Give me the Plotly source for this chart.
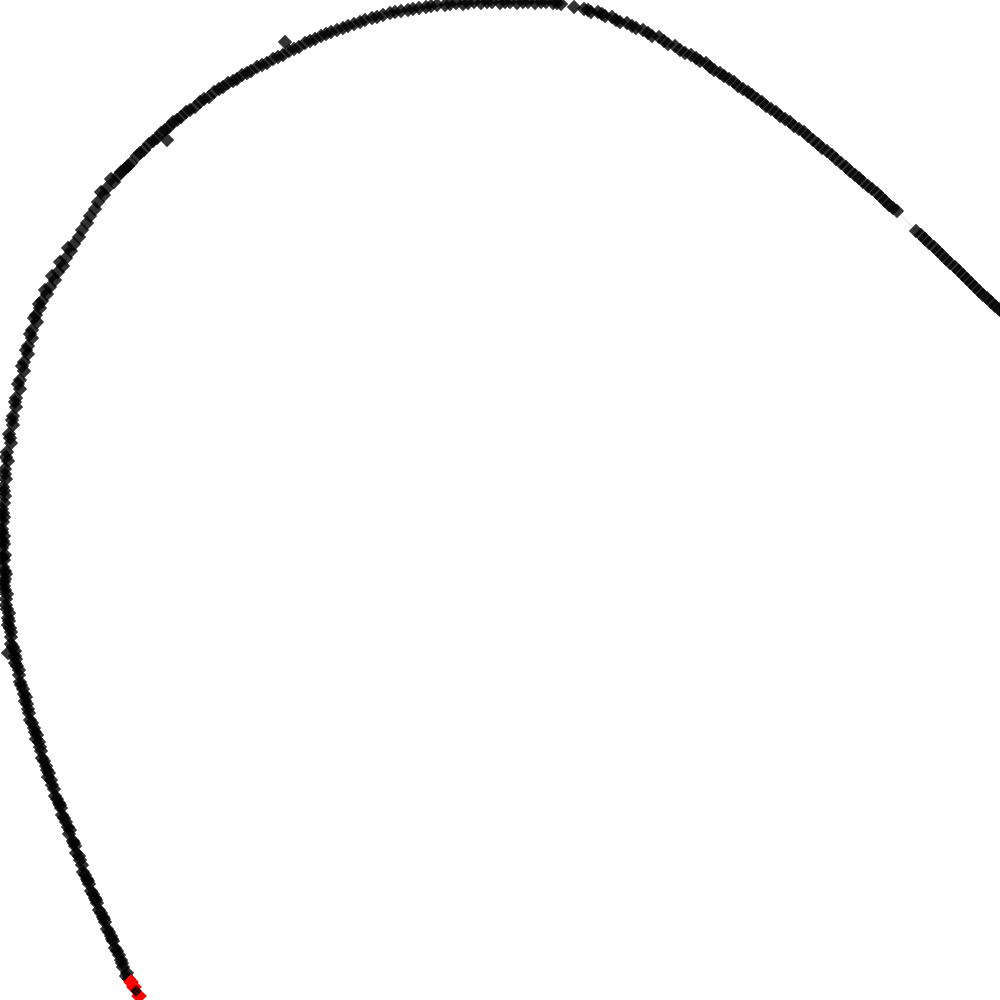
import plotly.graph_objects as go

# Points (x, y in pixel-like units, y grows downward)
seg_lower = [
    (129, 979), (127, 973), (123, 967), (121, 960), (119, 955), (115, 948), (113, 941),
    (111, 936), (107, 929), (105, 922), (103, 917), (99, 910), (97, 903), (95, 898), (91, 891),
    (89, 884), (87, 879), (83, 872), (82, 865), (80, 860), (76, 853), (75, 846), (73, 841),
    (69, 834), (68, 827), (66, 822), (62, 815), (61, 808), (59, 803), (55, 796), (54, 789),
    (52, 785), (48, 777), (47, 770), (46, 766), (42, 758), (41, 751), (40, 747), (36, 739),
    (35, 732), (34, 728), (30, 720), (29, 713), (28, 709), (25, 701), (24, 694), (23, 689),
    (20, 682), (19, 675), (19, 670), (15, 663), (15, 656), (15, 651), (11, 644), (11, 637),
    (11, 632), (8, 625), (8, 618), (9, 613), (6, 605), (6, 599), (7, 594), (4, 586),
    (5, 579), (6, 574), (3, 567), (4, 560), (5, 555), (2, 548), (3, 541), (4, 536),
    (2, 529), (3, 522), (4, 517), (2, 509), (4, 503),
]

seg_upper = [
    (5, 496), (3, 487), (6, 479), (5, 469), (8, 461), (7, 452), (11, 443), (9, 434),
    (13, 425), (13, 416), (16, 407), (16, 398), (20, 389), (20, 380), (24, 371), (24, 362),
    (28, 354), (28, 346), (32, 338), (32, 330), (37, 322), (36, 315), (40, 308), (42, 301),
    (47, 294), (50, 287), (55, 280), (58, 272), (63, 266), (66, 258), (71, 251), (74, 244),
    (79, 237), (82, 230), (87, 223), (90, 216), (95, 209), (98, 202), (104, 195), (107, 188),
    (114, 182), (118, 176), (125, 169), (131, 163), (137, 156), (144, 150), (149, 144), (157, 138),
    (161, 133), (169, 127), (173, 122), (181, 117), (186, 112), (195, 107), (200, 102), (209, 97),
    (214, 92), (223, 87), (228, 83), (237, 79), (242, 75), (251, 71), (257, 67), (267, 63),
    (273, 59), (283, 55), (289, 51), (299, 47), (305, 43), (315, 39), (321, 36), (331, 32),
    (337, 30), (348, 26), (354, 24), (365, 20), (372, 18), (383, 15), (390, 13), (401, 11),
    (408, 10), (419, 8), (426, 7), (437, 5), (445, 5), (456, 3), (463, 4), (474, 2),
    (481, 3), (492, 2), (500, 3), (510, 2), (517, 3), (528, 2), (535, 3), (546, 2),
    (553, 3), (561, 4), (574, 7),
]

seg_right = [
    (584, 9), (591, 12), (598, 12), (605, 16), (612, 17), (620, 22), (627, 23), (636, 28),
    (643, 30), (652, 36), (659, 37), (668, 44), (675, 46), (685, 53), (691, 55), (700, 61),
    (706, 63), (714, 70), (720, 73), (729, 79), (734, 82), (743, 89), (748, 92), (757, 99),
    (762, 102), (771, 109), (776, 112), (785, 119), (790, 122), (799, 129), (804, 132), (813, 140),
    (818, 144), (827, 151), (832, 155), (841, 163), (846, 167), (855, 175), (859, 178), (868, 186),
    (872, 189), (881, 197), (885, 201), (893, 208), (897, 211), (916, 231), (921, 235), (929, 243),
    (934, 247), (942, 255), (946, 259), (955, 267), (959, 271), (967, 279), (971, 283), (979, 291),
    (983, 295), (991, 302), (995, 306), (1003, 313),
]

extra_lower = [
    (126, 976), (122, 963), (117, 951), (112, 939), (109, 932), (104, 919), (101, 913),
    (96, 900), (93, 894), (88, 881), (85, 875), (79, 856), (74, 843), (70, 830), (64, 818),
    (60, 805), (57, 799), (51, 780), (49, 773), (44, 761), (39, 742), (37, 735), (32, 723),
    (27, 704), (26, 697), (21, 685), (17, 666), (16, 659), (13, 647), (10, 628), (9, 621),
    (7, 609), (5, 590), (4, 582), (5, 571), (3, 557), (4, 544), (2, 532), (3, 513),
]

extra_upper = [
    (4, 491), (5, 474), (6, 457), (10, 438), (12, 420), (15, 402), (18, 384), (22, 366),
    (26, 350), (30, 334), (34, 318), (39, 304), (45, 290), (52, 276), (60, 262), (68, 248),
    (101, 192), (111, 179), (121, 172), (128, 166), (140, 153), (153, 141), (165, 130), (177, 120),
    (190, 110), (204, 99), (219, 89), (233, 81), (247, 73), (262, 65), (278, 57), (294, 49),
    (310, 41), (326, 34), (343, 28), (360, 22), (377, 17), (395, 12), (413, 9), (431, 6),
    (450, 4), (468, 3), (487, 2), (505, 2), (523, 2), (541, 2), (557, 3),
]

extra_right = [
    (588, 10), (602, 14), (616, 20), (632, 26), (648, 33), (664, 41), (680, 50), (696, 58),
    (710, 67), (724, 76), (738, 86), (752, 95), (766, 106), (780, 116), (794, 126), (808, 136),
    (822, 148), (836, 159), (850, 171), (863, 182), (877, 193), (889, 205), (925, 239), (938, 251),
    (950, 263), (963, 275), (975, 287), (987, 298), (999, 309),
]

outliers = [(285, 42), (8, 653), (167, 140)]

red_points = [(131, 982), (134, 987), (139, 996)]

end_points = [(136, 991)]

curve = seg_lower + seg_upper + seg_right
curve_x = [p[0] for p in curve]
curve_y = [p[1] for p in curve]

extra = extra_lower + extra_upper + extra_right + outliers
extra_x = [p[0] for p in extra]
extra_y = [p[1] for p in extra]

fig = go.Figure()

fig.add_trace(go.Scatter(
    x=curve_x, y=curve_y,
    mode="lines+markers",
    line=dict(color="rgba(0,0,0,0.15)", width=1),
    marker=dict(symbol="diamond", size=11, color="rgba(0,0,0,0.8)"),
    hoverinfo="skip",
))

fig.add_trace(go.Scatter(
    x=extra_x, y=extra_y,
    mode="markers",
    marker=dict(symbol="diamond", size=11, color="rgba(0,0,0,0.8)"),
    hoverinfo="skip",
))

fig.add_trace(go.Scatter(
    x=[p[0] for p in red_points], y=[p[1] for p in red_points],
    mode="markers",
    marker=dict(symbol="diamond", size=12, color="rgb(255,0,0)"),
    hoverinfo="skip",
))

fig.add_trace(go.Scatter(
    x=[p[0] for p in end_points], y=[p[1] for p in end_points],
    mode="markers",
    marker=dict(symbol="diamond", size=9, color="rgba(0,0,0,0.8)"),
    hoverinfo="skip",
))

fig.update_layout(
    width=1000, height=1000,
    margin=dict(l=0, r=0, t=0, b=0),
    paper_bgcolor="white", plot_bgcolor="white",
    showlegend=False,
    xaxis=dict(range=[0, 1000], visible=False, showgrid=False, zeroline=False),
    yaxis=dict(range=[1000, 0], visible=False, showgrid=False, zeroline=False),
)

fig.write_html(
    "out.html",
    config={"displayModeBar": False},
    post_script="document.body.style.margin='0';document.body.style.padding='0';",
)
